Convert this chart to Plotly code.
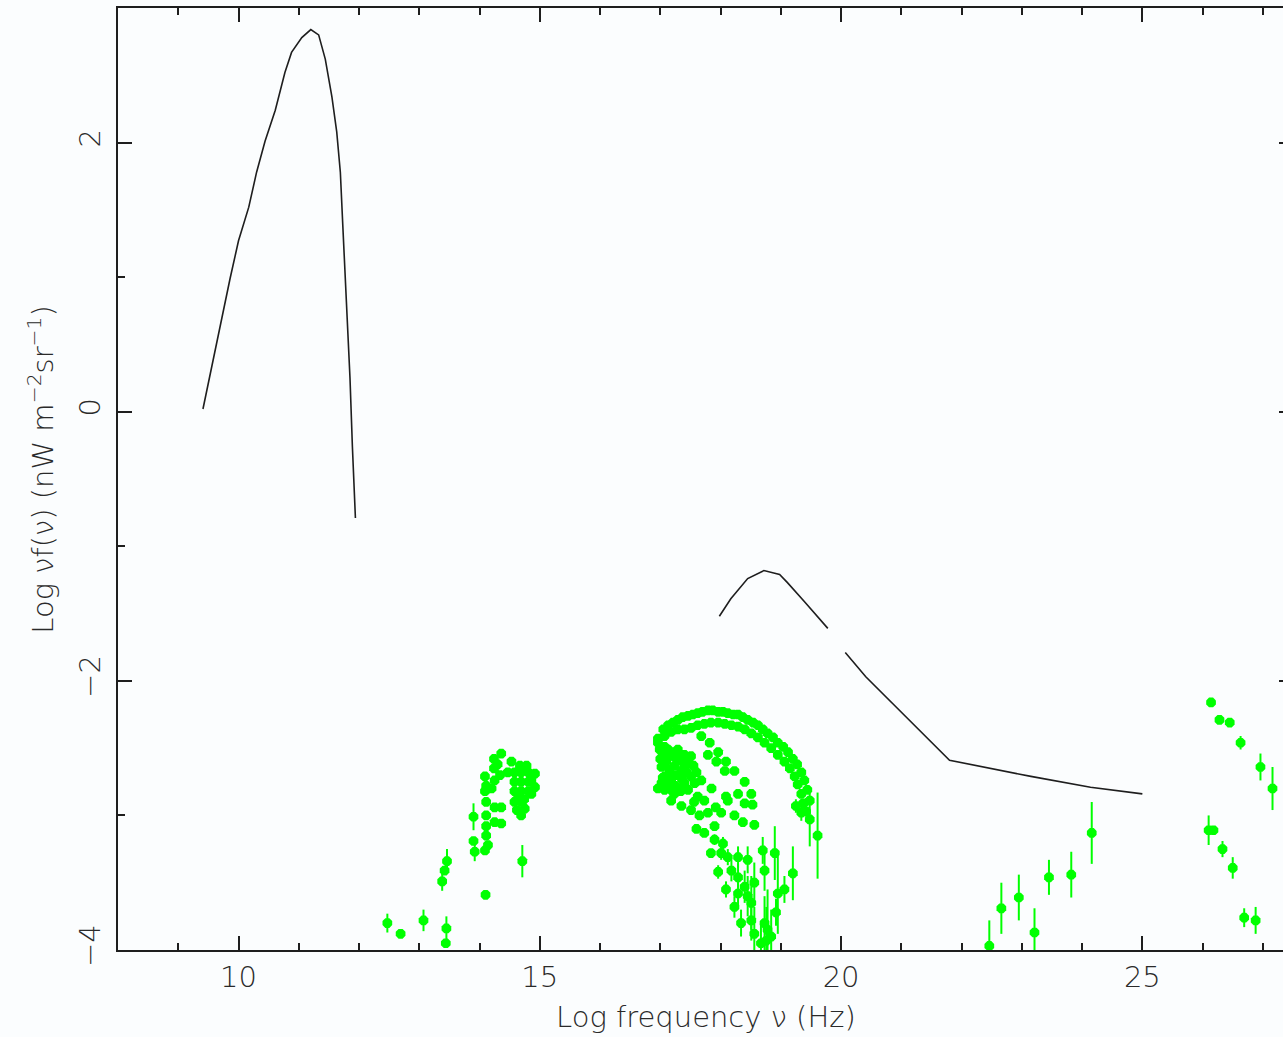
import plotly.graph_objects as go

# ---- model spectra (black curves) ----
cmb_x = [9.41, 9.56, 9.72, 9.86, 10.00, 10.17, 10.30, 10.44, 10.61, 10.77, 10.88, 11.05,
         11.20, 11.33, 11.44, 11.55, 11.63, 11.69, 11.73, 11.77, 11.82, 11.85, 11.89, 11.94]
cmb_y = [0.02, 0.35, 0.68, 0.99, 1.27, 1.52, 1.78, 2.01, 2.24, 2.52, 2.67, 2.78,
         2.84, 2.80, 2.62, 2.34, 2.08, 1.78, 1.39, 1.01, 0.63, 0.25, -0.26, -0.79]

# X-ray / gamma background model (None marks the gap in the curve)
xgb_x = [17.98, 18.17, 18.45, 18.72, 18.98, 19.11, 19.39, 19.78, None,
         20.07, 20.41, 21.80, 23.15, 24.14, 25.00]
xgb_y = [-1.52, -1.39, -1.24, -1.18, -1.21, -1.27, -1.41, -1.61, None,
         -1.79, -1.97, -2.59, -2.71, -2.79, -2.84]

# ---- measurements (green) ----
# radio / infrared / optical
opt_x = [12.47, 12.69, 13.07, 13.45, 13.44, 13.38, 13.42, 13.46, 13.90, 13.90, 13.92, 14.10, 14.71,
         14.36, 14.24, 14.24, 14.53, 14.67, 14.78, 14.92, 14.86, 14.09, 14.11, 14.25, 14.34,
         14.47, 14.58, 14.69, 14.81, 14.58, 14.69, 14.81, 14.92, 14.09, 14.20, 14.58, 14.69,
         14.81, 14.58, 14.69, 14.75, 14.69, 14.11, 14.25, 14.36, 14.11, 14.25, 14.36, 14.11,
         14.11, 14.14, 14.09, 14.30, 14.64, 14.74, 14.62, 14.86]
opt_y = [-3.80, -3.88, -3.78, -3.84, -3.95, -3.49, -3.41, -3.34, -3.01, -3.19, -3.27, -3.59, -3.34,
         -2.54, -2.58, -2.65, -2.60, -2.63, -2.63, -2.69, -2.74, -2.71, -2.78, -2.74, -2.70,
         -2.68, -2.68, -2.68, -2.68, -2.75, -2.75, -2.75, -2.79, -2.82, -2.80, -2.82, -2.82,
         -2.82, -2.90, -2.90, -2.95, -3.00, -2.90, -2.94, -2.94, -3.00, -3.05, -3.06, -3.08,
         -3.15, -3.22, -3.26, -2.62, -2.86, -2.88, -2.96, -2.84]
opt_err = [0.07, 0.03, 0.08, 0.09, 0.03, 0.07, 0.03, 0.09, 0.10, 0.03, 0.07, 0.0, 0.12,
           0.0, 0.0, 0.0, 0.0, 0.0, 0.0, 0.0, 0.0, 0.0, 0.0, 0.0, 0.0,
           0.0, 0.0, 0.0, 0.0, 0.0, 0.0, 0.0, 0.0, 0.0, 0.0, 0.0, 0.0,
           0.0, 0.0, 0.0, 0.0, 0.0, 0.0, 0.0, 0.0, 0.0, 0.0, 0.0, 0.0,
           0.0, 0.0, 0.0, 0.0, 0.0, 0.0, 0.0, 0.03]

# X-ray: upper band
xu_x = [16.96, 17.05, 17.13, 17.21, 17.29, 17.37, 17.46, 17.54, 17.62, 17.70, 17.79, 17.87,
        17.96, 18.04, 18.12, 18.21, 18.29, 18.37, 18.45, 18.54, 18.62, 18.70, 18.78, 18.87,
        18.95, 19.04, 19.12, 19.20, 19.27, 19.34, 19.39, 19.44, 19.48]
xu_y = [-2.43, -2.36, -2.33, -2.31, -2.29, -2.27, -2.26, -2.25, -2.24, -2.23, -2.22, -2.22,
        -2.23, -2.23, -2.24, -2.25, -2.25, -2.27, -2.29, -2.31, -2.33, -2.36, -2.39, -2.42,
        -2.46, -2.49, -2.53, -2.58, -2.62, -2.68, -2.74, -2.81, -2.89]

# X-ray: second band just below
xl_x = [16.96, 17.07, 17.18, 17.29, 17.40, 17.51, 17.62, 17.73, 17.84, 17.96, 18.07, 18.18,
        18.29, 18.40, 18.51, 18.62, 18.73, 18.84, 18.95, 19.06, 19.15, 19.23, 19.28, 19.34,
        19.37, 19.42, 19.25, 19.34, 19.48, 19.61]
xl_y = [-2.46, -2.41, -2.38, -2.36, -2.36, -2.35, -2.33, -2.32, -2.31, -2.31, -2.32, -2.33,
        -2.34, -2.36, -2.39, -2.42, -2.46, -2.50, -2.55, -2.60, -2.65, -2.71, -2.77, -2.84,
        -2.91, -2.97, -2.93, -2.98, -3.03, -3.15]
xl_err = [0.0] * 24 + [0.03, 0.04, 0.05, 0.06, 0.20, 0.32]

# X-ray: middle arc
xm_x = [17.68, 17.82, 17.96, 18.09, 18.23, 18.40, 18.51, 18.53, 18.56, 17.79, 17.93, 18.07,
        18.29, 18.09, 18.40, 18.37, 18.23]
xm_y = [-2.41, -2.46, -2.53, -2.60, -2.67, -2.75, -2.84, -2.92, -3.07, -2.55, -2.60, -2.67,
        -2.84, -2.86, -2.91, -3.05, -3.00]

# X-ray: dense inner cluster
xc_x = [16.96, 16.99, 17.05, 17.02, 17.10, 17.15, 17.07, 17.18, 17.26, 17.35, 17.24, 17.32,
        17.40, 17.46, 17.51, 17.40, 17.18, 17.29, 17.51, 17.40, 17.29, 17.18, 17.46, 17.57,
        17.62, 17.73, 17.35, 17.51, 17.65, 17.79, 17.18, 17.07, 17.13, 17.07, 18.01, 18.12,
        17.00, 17.12, 17.22, 17.33, 17.44, 17.55, 17.04, 17.14, 17.25, 17.36, 17.02, 17.12,
        17.23, 17.34, 17.60, 17.68, 17.56, 17.85, 17.92]
xc_y = [-2.80, -2.51, -2.56, -2.64, -2.60, -2.66, -2.71, -2.74, -2.70, -2.67, -2.63, -2.59,
        -2.64, -2.60, -2.56, -2.55, -2.55, -2.51, -2.71, -2.76, -2.80, -2.81, -2.81, -2.76,
        -2.86, -2.89, -2.93, -2.96, -3.00, -2.98, -2.89, -2.81, -2.51, -2.49, -2.98, -2.89,
        -2.58, -2.57, -2.56, -2.55, -2.68, -2.63, -2.72, -2.70, -2.78, -2.73, -2.76, -2.77,
        -2.84, -2.82, -2.68, -2.74, -2.90, -2.80, -2.94]

# X-ray: faint lower arcs with larger uncertainties
xf_x = [17.90, 17.60, 17.73, 17.90, 18.04, 18.01, 17.84, 18.12, 18.29, 18.45, 17.96, 18.18,
        18.29, 18.40, 18.56, 18.09, 18.29, 18.45, 18.23, 18.51, 18.34, 18.51, 18.56, 18.73,
        18.67, 18.73, 18.90, 18.70, 18.95, 19.06, 19.20, 18.92, 18.78, 18.76, 18.84]
xf_y = [-3.08, -3.10, -3.13, -3.18, -3.21, -3.28, -3.28, -3.31, -3.31, -3.33, -3.42, -3.41,
        -3.46, -3.53, -3.50, -3.55, -3.58, -3.60, -3.68, -3.65, -3.80, -3.78, -3.88, -3.80,
        -3.95, -3.41, -3.28, -3.26, -3.58, -3.55, -3.43, -3.72, -3.85, -3.93, -3.90]
xf_err = [0.0, 0.0, 0.0, 0.04, 0.05, 0.05, 0.0, 0.06, 0.08, 0.10, 0.05, 0.08,
          0.10, 0.12, 0.15, 0.06, 0.10, 0.15, 0.08, 0.20, 0.10, 0.15, 0.20, 0.20,
          0.15, 0.15, 0.20, 0.10, 0.30, 0.10, 0.20, 0.10, 0.30, 0.25, 0.20]

# gamma rays
gam_x = [22.46, 22.66, 22.95, 23.21, 23.45, 23.82, 24.16,
         26.10, 26.18, 26.33, 26.50, 26.69, 26.88, 27.16,
         26.14, 26.28, 26.45, 26.63, 26.96]
gam_y = [-3.97, -3.69, -3.61, -3.87, -3.46, -3.44, -3.13,
         -3.11, -3.11, -3.25, -3.39, -3.76, -3.78, -2.80,
         -2.16, -2.29, -2.31, -2.46, -2.64]
gam_err = [0.19, 0.19, 0.17, 0.18, 0.13, 0.17, 0.23,
           0.11, 0.03, 0.06, 0.08, 0.07, 0.10, 0.16,
           0.02, 0.02, 0.02, 0.05, 0.10]

x_tick_vals = [10, 15, 20, 25]
y_tick_vals = [-4, -2, 0, 2]

INK = "#1e1e1e"
GREEN = "#00ff00"
BG = "#fbfdfe"
FONT = "DejaVu Sans"
TXT = dict(family=FONT, size=29, color="#2a2a2a", weight=200)

fig = go.Figure()

for sx, sy in [(cmb_x, cmb_y), (xgb_x, xgb_y)]:
    fig.add_trace(go.Scatter(x=sx, y=sy, mode="lines", connectgaps=False,
                             line=dict(color=INK, width=1.6), hoverinfo="skip"))

point_sets = [
    (opt_x, opt_y, opt_err),
    (xu_x, xu_y, [0.0] * len(xu_x)),
    (xl_x, xl_y, xl_err),
    (xm_x, xm_y, [0.0] * len(xm_x)),
    (xc_x, xc_y, [0.0] * len(xc_x)),
    (xf_x, xf_y, xf_err),
    (gam_x, gam_y, gam_err),
]
for px_, py_, pe_ in point_sets:
    fig.add_trace(go.Scatter(
        x=px_, y=py_, mode="markers",
        marker=dict(symbol="octagon", size=10.5, color=GREEN, line=dict(width=0)),
        error_y=dict(type="data", array=pe_, visible=True, color=GREEN,
                     thickness=2, width=0),
    ))

axis_common = dict(
    showgrid=False, zeroline=False, showline=True, linecolor=INK, linewidth=2,
    mirror="ticks", ticks="inside", ticklen=14, tickwidth=2, tickcolor=INK,
    tickfont=TXT,
)

fig.update_xaxes(range=[8, 27.5], tickmode="array", tickvals=x_tick_vals,
                 minor=dict(dtick=1, tick0=0, ticks="inside", ticklen=7,
                            tickwidth=2, tickcolor=INK),
                 ticklabelstandoff=0, **axis_common)
fig.update_yaxes(range=[-4, 3], tickmode="array", tickvals=y_tick_vals,
                 tickangle=-90,
                 minor=dict(dtick=1, tick0=0, ticks="inside", ticklen=7,
                            tickwidth=2, tickcolor=INK),
                 ticklabelstandoff=4, **axis_common)

fig.add_annotation(text="Log frequency ν (Hz)", xref="paper", yref="paper",
                   x=0.5, y=0, yanchor="middle", yshift=-67, showarrow=False,
                   font=TXT)
fig.add_annotation(text="Log νf(ν) (nW m<sup>−2</sup>sr<sup>−1</sup>)",
                   xref="paper", yref="paper", x=-0.0663, y=0.51,
                   xanchor="center", yanchor="middle", textangle=-90,
                   showarrow=False, font=TXT)

fig.update_layout(
    width=1300, height=1037,
    margin=dict(l=118, r=5, t=8, b=87),
    paper_bgcolor=BG, plot_bgcolor=BG,
    showlegend=False,
)

fig.write_html("out.html", post_script="document.body.style.overflow='hidden';")
